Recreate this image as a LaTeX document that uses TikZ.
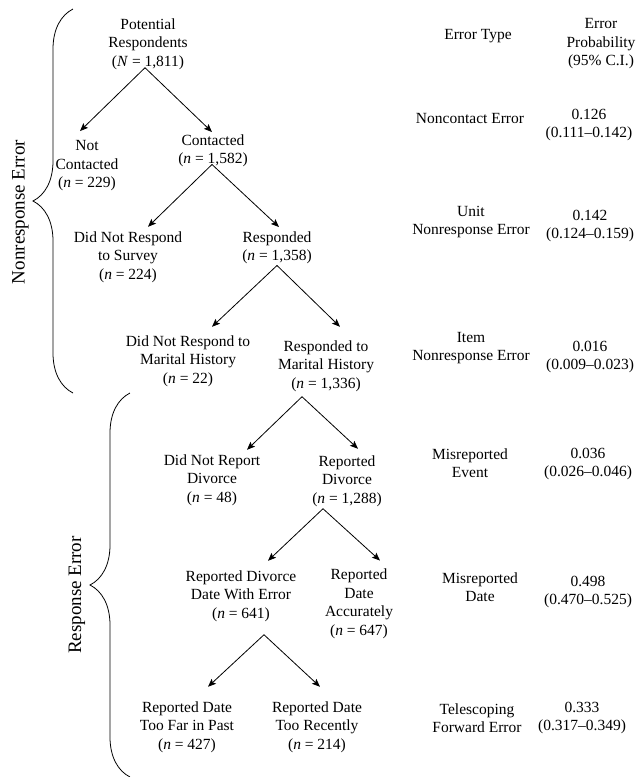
\documentclass[tikz,border=0pt]{standalone}
\usepackage{fontspec}
\setmainfont{Liberation Serif}
\usetikzlibrary{arrows.meta,decorations.pathreplacing}

\newcommand{\nval}[1]{(\textit{n} = #1)}

\begin{document}
\begin{tikzpicture}[x=1pt, y=-1pt,
  lbl/.style={align=center, inner sep=0pt, font=\fontsize{15.5}{18.5}\selectfont},
  side/.style={inner sep=0pt, rotate=90, font=\fontsize{19}{22}\selectfont},
  arr/.style={line width=0.8pt, -{Stealth[length=8pt, width=6.5pt, inset=1.5pt]}},
  brc/.style={line width=0.8pt, decorate, decoration={brace, amplitude=40pt}}]
\useasboundingbox (0,0) rectangle (637,777);

% tree
\node[lbl] (pot) at (148,44) {Potential\\Respondents\\(\textit{N} = 1,811)};
\node[lbl] (notc) at (87,166) {Not\\Contacted\\\nval{229}};
\node[lbl] (cont) at (213,151) {Contacted\\\nval{1,582}};
\node[lbl] (dnr) at (128,257) {Did Not Respond\\to Survey\\\nval{224}};
\node[lbl] (resp) at (277,248) {Responded\\\nval{1,358}};
\node[lbl] (dnrm) at (188,361) {Did Not Respond to\\Marital History\\\nval{22}};
\node[lbl] (rmh) at (326,366) {Responded to\\Marital History\\\nval{1,336}};
\node[lbl] (dnrd) at (212,480) {Did Not Report\\Divorce\\\nval{48}};
\node[lbl] (rd) at (347,481) {Reported\\Divorce\\\nval{1,288}};
\node[lbl] (rdwe) at (241,596) {Reported Divorce\\Date With Error\\\nval{641}};
\node[lbl] (rda) at (359,604) {Reported\\Date\\Accurately\\\nval{647}};
\node[lbl] (past) at (187,727) {Reported Date\\Too Far in Past\\\nval{427}};
\node[lbl] (recent) at (317,727) {Reported Date\\Too Recently\\\nval{214}};

\draw[arr] ([shift={(-3,-2)}]pot.south) -- ([shift={(-7,-9.5)}]notc.north);
\draw[arr] ([shift={(-3,-2)}]pot.south) -- ([shift={(-1,-2.5)}]cont.north);
\draw[arr] ([shift={(-1,-3)}]cont.south) -- ([shift={(20,-4.5)}]dnr.north);
\draw[arr] ([shift={(-1,-3)}]cont.south) -- ([shift={(2,-4.5)}]resp.north);
\draw[arr] ([shift={(0,1)}]resp.south) -- ([shift={(24,-8.5)}]dnrm.north);
\draw[arr] ([shift={(0,1)}]resp.south) -- ([shift={(14,-13.5)}]rmh.north);
\draw[arr] ([shift={(-24,5)}]rmh.south) -- ([shift={(35,-4.5)}]dnrd.north);
\draw[arr] ([shift={(-24,5)}]rmh.south) -- ([shift={(11,-6.5)}]rd.north);
\draw[arr] ([shift={(-24,2)}]rd.south) -- ([shift={(27,-9.5)}]rdwe.north);
\draw[arr] ([shift={(-24,2)}]rd.south) -- ([shift={(21,-8.5)}]rda.north);
\draw[arr] ([shift={(23,13)}]rdwe.south) -- ([shift={(21,-14.5)}]past.north);
\draw[arr] ([shift={(23,13)}]rdwe.south) -- ([shift={(3,-14.5)}]recent.north);

% braces
\draw[brc] (73,393) -- (73,9);
\node[side] (nonresp) at (20.5,212) {Nonresponse Error};
\draw[brc] (130,777) -- (130,393);
\node[side] (respons) at (77,595) {Response Error};

% error columns
\node[lbl] (etype) at (478,36) {Error Type};
\node[lbl] (eprob) at (601,44) {Error\\Probability\\(95\% C.I.)};
\node[lbl] (t1) at (470,118) {Noncontact Error};
\node[lbl] (p1) at (589,125) {0.126\\(0.111--0.142)};
\node[lbl] (t2) at (471,222) {Unit\\Nonresponse Error};
\node[lbl] (p2) at (590,226) {0.142\\(0.124--0.159)};
\node[lbl] (t3) at (471,348) {Item\\Nonresponse Error};
\node[lbl] (p3) at (590,357) {0.016\\(0.009--0.023)};
\node[lbl] (t4) at (470,463) {Misreported\\Event};
\node[lbl] (p4) at (588,464) {0.036\\(0.026--0.046)};
\node[lbl] (t5) at (480,587) {Misreported\\Date};
\node[lbl] (p5) at (588,592) {0.498\\(0.470--0.525)};
\node[lbl] (t6) at (477,718) {Telescoping\\Forward Error};
\node[lbl] (p6) at (582,718) {0.333\\(0.317--0.349)};
\end{tikzpicture}
\end{document}
